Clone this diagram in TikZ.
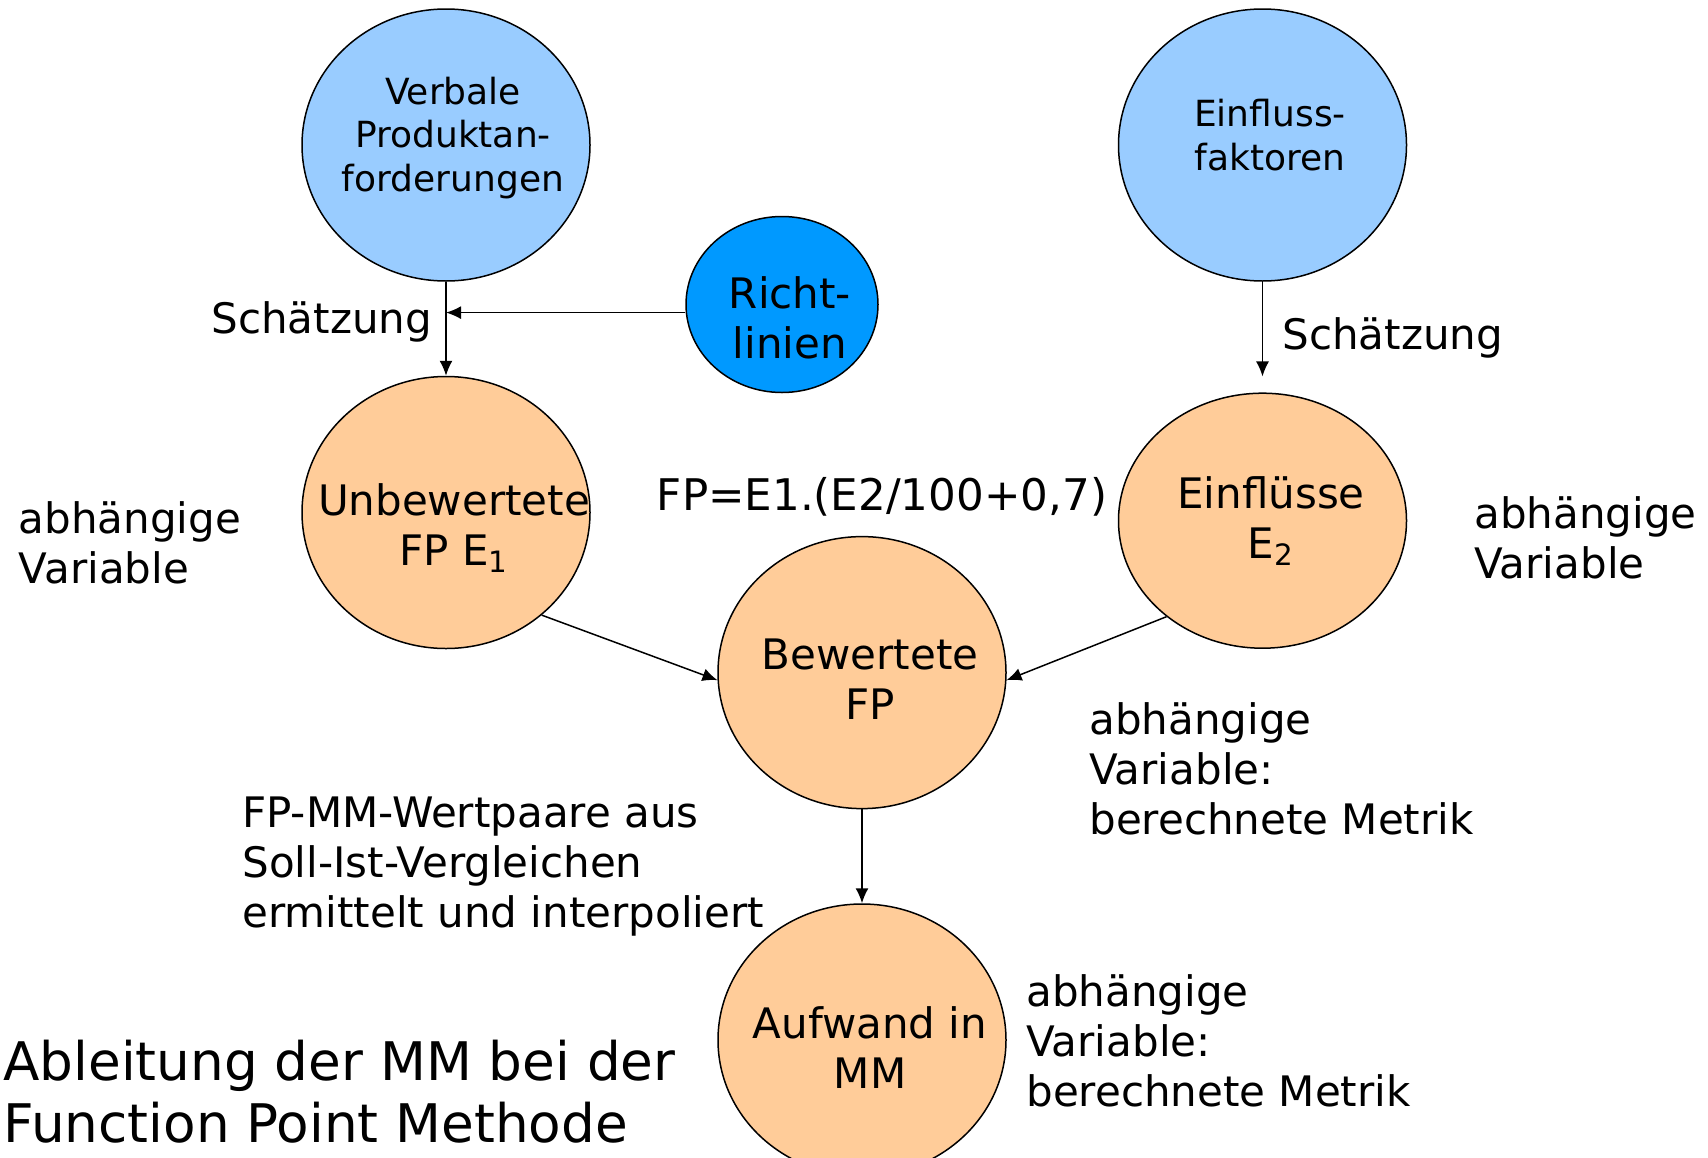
\documentclass[tikz,border=0pt]{standalone}
\usepackage{fontspec}
\setmainfont{DejaVu Sans}
\usetikzlibrary{shapes.geometric,arrows.meta}
\definecolor{lblue}{HTML}{99CCFF}
\definecolor{dblue}{HTML}{0099FF}
\definecolor{peach}{HTML}{FFCC99}
\begin{document}
\begin{tikzpicture}[x=0.5pt,y=-0.5pt,
  bubble/.style={ellipse,draw=black,line width=0.75pt,inner sep=0pt},
  nodetxt/.style={align=center,inner sep=0pt,font=\fontsize{18pt}{21.8pt}\selectfont},
  bigtxt/.style={align=center,inner sep=0pt,font=\fontsize{21pt}{25pt}\selectfont},
  lbl/.style={align=left,inner sep=0pt,font=\fontsize{21pt}{25pt}\selectfont},
  titletxt/.style={align=left,inner sep=0pt,font=\fontsize{26.6pt}{31pt}\selectfont},
  conn/.style={line width=0.75pt,-{Latex[length=7.5pt,width=6.5pt]}}]
\useasboundingbox[fill=white] (0,0) rectangle (1708,1157);
% ellipses
\node[bubble,fill=lblue,minimum width=144pt,minimum height=136pt] (verb) at (446,145) {};
\node[bubble,fill=dblue,minimum width=96pt,minimum height=88pt] (richt) at (782,304.5) {};
\node[bubble,fill=lblue,minimum width=144pt,minimum height=136pt] (einfak) at (1262.5,145) {};
\node[bubble,fill=peach,minimum width=144pt,minimum height=136pt] (unbew) at (446,512.5) {};
\node[bubble,fill=peach,minimum width=144pt,minimum height=127.5pt] (einfl) at (1262.5,520.7) {};
\node[bubble,fill=peach,minimum width=144pt,minimum height=136pt] (bew) at (862,672.6) {};
\node[bubble,fill=peach,minimum width=144pt,minimum height=136pt] (aufw) at (862,1040) {};
% texts in ellipses
\node[nodetxt] (tverb) at (453,138) {Verbale\\Produktan-\\forderungen};
\node[nodetxt] (teinfak) at (1270,135) {Einfluss-\\faktoren};
\node[bigtxt] (trich) at (790,318) {Richt-\\linien};
\node[bigtxt] (tunbew) at (454,528) {Unbewertete\\FP E\textsubscript{1}};
\node[bigtxt] (teinfl) at (1271,521) {Einflüsse\\E\textsubscript{2}};
\node[bigtxt] (tbew) at (870,679) {Bewertete\\FP};
\node[bigtxt] (taufw) at (870,1048) {Aufwand in\\MM};
% connectors
\draw[conn] (verb.south) -- (unbew.north);
\coordinate (join) at (446,312.6);
\draw[conn] (richt.west |- join) -- (join);
\draw[conn,shorten >=8pt] (einfak.south) -- (einfl.north);
\draw[conn] (unbew.-47.6) -- (bew.183.3);
\draw[conn] (einfl.-135.1) -- (bew.-3.3);
\draw[conn] (bew.south) -- (aufw.north);
% labels
\node[lbl,anchor=east] (s1) at (432.5,322) {Schätzung};
\node[lbl,anchor=west] (s2) at (1282,338) {Schätzung};
\node[lbl,anchor=west] (av1) at (18.5,543) {abhängige\\Variable};
\node[lbl,anchor=west] (av2) at (1474,538) {abhängige\\Variable};
\node[lbl,font=\fontsize{21.8pt}{25pt}\selectfont] (form) at (882,497) {FP=E1.(E2/100+0,7)};
\node[lbl,anchor=west] (av3) at (1089,769) {abhängige\\Variable:\\berechnete Metrik};
\node[lbl,anchor=west] (wp) at (242,867) {FP-MM-Wertpaare aus\\Soll-Ist-Vergleichen\\ermittelt und interpoliert};
\node[lbl,anchor=west] (av4) at (1026,1041) {abhängige\\Variable:\\berechnete Metrik};
\node[titletxt,anchor=west] (title) at (3,1092) {Ableitung der MM bei der\\Function Point Methode};
\end{tikzpicture}
\end{document}
